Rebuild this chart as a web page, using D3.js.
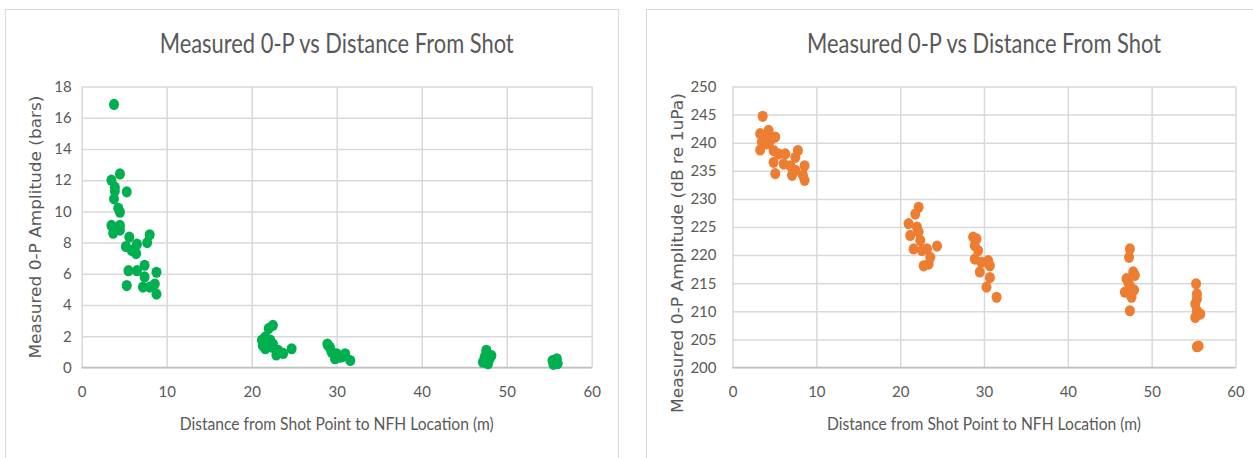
<!DOCTYPE html>
<html>
<head>
<meta charset="utf-8">
<script src="https://cdn.jsdelivr.net/npm/d3@7"></script>
<style>
  body { margin: 0; background: #fff; }
  svg { display: block; }
</style>
</head>
<body>
<div id="chart"></div>
<script>
// data
var title = 'Measured 0-P vs Distance From Shot';
var xTitle = 'Distance from Shot Point to NFH Location (m)';

var barsX = [3.8, 4.5, 3.5, 3.9, 5.3, 3.8, 4.3, 4.5, 3.5, 4.5, 3.7, 4.5, 5.6, 8.0, 7.7, 5.2, 6.5, 5.9, 6.4,
  5.5, 6.5, 7.4, 8.8, 7.4, 5.3, 7.2, 8.0, 8.6, 8.8, 3.9,
  22.5, 22.0, 21.6, 21.2, 21.8, 21.6, 22.5, 23.1, 22.9, 23.7, 24.7, 22.2, 22.4, 21.3,
  28.9, 29.2, 29.4, 30.0, 30.4, 31.0, 31.6, 29.8, 29.0, 30.7,
  47.6, 47.4, 48.0, 48.2, 47.2, 47.8, 47.6,
  55.6, 55.9, 56.0, 55.4, 55.5];
var barsY = [16.85, 12.4, 12.0, 11.55, 11.25, 10.8, 10.2, 9.95, 9.1, 9.1, 8.6, 8.8, 8.35, 8.5, 8.0, 7.75, 7.9, 7.5, 7.3,
  6.2, 6.2, 6.55, 6.1, 5.8, 5.25, 5.15, 5.15, 5.35, 4.7, 11.3,
  2.7, 2.5, 1.95, 1.75, 1.5, 1.2, 1.5, 1.1, 0.8, 0.9, 1.2, 1.75, 1.3, 1.4,
  1.5, 1.3, 0.98, 0.88, 0.66, 0.88, 0.45, 0.56, 1.4, 0.7,
  1.1, 0.66, 0.56, 0.77, 0.34, 0.24, 0.9,
  0.34, 0.56, 0.25, 0.45, 0.2];

var dbX = [3.6, 3.3, 4.3, 5.1, 3.5, 3.3, 4.1, 4.9, 5.5, 6.3, 7.8, 7.5, 4.9, 6.1, 6.9, 8.6, 5.1, 7.1, 8.4, 8.6, 7.5, 3.6, 4.5,
  22.2, 21.8, 21.0, 21.2, 22.0, 22.2, 22.4, 21.6, 22.6, 23.2, 23.6, 22.8, 23.4, 24.4,
  28.7, 29.1, 28.9, 29.3, 28.9, 29.7, 30.5, 30.7, 29.5, 30.7, 30.3, 31.5,
  47.4, 47.3, 47.8, 47.2, 48.0, 47.0, 47.4, 46.8, 47.6, 47.4, 47.9,
  55.3, 55.4, 55.2, 55.4, 55.2, 55.8, 55.4, 55.6, 55.4];
var dbY = [244.7, 241.6, 242.2, 241.0, 240.1, 238.7, 239.8, 238.6, 238.0, 238.0, 238.6, 237.4, 236.5, 236.2, 235.9, 235.9, 234.5, 234.2, 234.2, 233.3, 235.1, 241.1, 240.4,
  228.5, 227.3, 225.6, 223.5, 225.0, 224.1, 222.6, 221.1, 220.8, 221.1, 219.6, 218.1, 218.4, 221.6,
  223.2, 222.9, 221.7, 220.8, 219.3, 218.7, 219.0, 218.1, 217.0, 216.0, 214.3, 212.5,
  221.1, 219.6, 217.0, 215.2, 216.4, 215.8, 214.6, 213.4, 212.5, 210.1, 213.8,
  214.9, 213.1, 211.3, 210.1, 208.9, 209.5, 203.7, 203.8, 212.2];

var xTicks = [0, 10, 20, 30, 40, 50, 60];
var barsTicks = [0, 2, 4, 6, 8, 10, 12, 14, 16, 18];
var dbTicks = [200, 205, 210, 215, 220, 225, 230, 235, 240, 245, 250];

var textColor = '#595959';

var svg = d3.select('#chart').append('svg')
    .attr('width', 1253)
    .attr('height', 458);

function drawChart(cfg) {
    var g = svg.append('g');

    // chart frame
    g.append('rect')
        .attr('x', cfg.frame[0] + 0.5).attr('y', 9.5)
        .attr('width', cfg.frame[1]).attr('height', 470)
        .attr('fill', '#fff').attr('stroke', '#d9d9d9');

    var x = d3.scaleLinear().domain([0, 60]).range([cfg.left, cfg.right]);
    var y = d3.scaleLinear().domain(cfg.yDomain).range([367.5, 86.5]);

    // grid
    g.append('g')
        .attr('class', 'grid')
        .attr('transform', 'translate(0,367.5)')
        .call(d3.axisBottom(x).tickValues(xTicks).tickSize(-(367.5 - 86.5)).tickFormat(''))
        .call(function(s) { s.select('.domain').remove(); });
    g.append('g')
        .attr('class', 'grid')
        .attr('transform', 'translate(' + cfg.left + ',0)')
        .call(d3.axisLeft(y).tickValues(cfg.yTicks).tickSize(-(cfg.right - cfg.left)).tickFormat(''))
        .call(function(s) { s.select('.domain').remove(); });
    g.selectAll('.grid line').attr('stroke', '#d9d9d9').attr('stroke-width', 1.5);

    // baseline
    g.append('line')
        .attr('x1', cfg.left).attr('x2', cfg.right)
        .attr('y1', y(cfg.yDomain[0])).attr('y2', y(cfg.yDomain[0]))
        .attr('stroke', '#bfbfbf').attr('stroke-width', 1.5);

    // tick labels
    var xa = g.append('g')
        .attr('transform', 'translate(0,367.5)')
        .call(d3.axisBottom(x).tickValues(xTicks).tickSize(0).tickPadding(19));
    var ya = g.append('g')
        .attr('transform', 'translate(' + cfg.left + ',0)')
        .call(d3.axisLeft(y).tickValues(cfg.yTicks).tickSize(0).tickPadding(cfg.yPad));
    [xa, ya].forEach(function(a) {
        a.select('.domain').remove();
        a.selectAll('text')
            .attr('fill', textColor)
            .style('font-family', 'Lato, "Open Sans", sans-serif')
            .style('font-size', '15px');
    });

    // points
    g.append('g').selectAll('ellipse')
        .data(cfg.xs.map(function(v, i) { return [v, cfg.ys[i]]; }))
        .enter()
        .append('ellipse')
        .attr('cx', function(d) { return x(d[0]); })
        .attr('cy', function(d) { return y(d[1]); })
        .attr('rx', 5)
        .attr('ry', 5.6)
        .attr('fill', cfg.color);

    // titles
    var cx = (cfg.left + cfg.right) / 2;
    g.append('text')
        .attr('x', cx).attr('y', 53)
        .attr('text-anchor', 'middle')
        .attr('fill', textColor)
        .attr('textLength', 354).attr('lengthAdjust', 'spacingAndGlyphs')
        .style('font-family', 'Lato, sans-serif')
        .style('font-size', '27px')
        .text(title);
    g.append('text')
        .attr('x', cx).attr('y', 430)
        .attr('text-anchor', 'middle')
        .attr('fill', textColor)
        .attr('textLength', 314).attr('lengthAdjust', 'spacingAndGlyphs')
        .style('font-family', 'Lato, sans-serif')
        .style('font-size', '17.5px')
        .text(xTitle);
    g.append('text')
        .attr('transform', 'translate(' + cfg.yTitleX + ',' + cfg.yTitleY + ') rotate(-90)')
        .attr('text-anchor', 'middle')
        .attr('fill', textColor)
        .attr('textLength', cfg.yTitleLen).attr('lengthAdjust', 'spacingAndGlyphs')
        .style('font-family', '"DejaVu Sans", sans-serif')
        .style('font-size', '15px')
        .text(cfg.yTitle);
}

drawChart({
    frame: [5, 613], left: 81.7, right: 591.7,
    yDomain: [0, 18], yTicks: barsTicks, yPad: 10,
    xs: barsX, ys: barsY, color: '#00b050',
    yTitle: 'Measured 0-P Amplitude (bars)', yTitleX: 41, yTitleY: 227, yTitleLen: 263
});
drawChart({
    frame: [646, 640], left: 732.5, right: 1235.5,
    yDomain: [200, 250], yTicks: dbTicks, yPad: 16,
    xs: dbX, ys: dbY, color: '#ed7d31',
    yTitle: 'Measured 0-P Amplitude (dB re 1uPa)', yTitleX: 683, yTitleY: 253, yTitleLen: 320
});
</script>
</body>
</html>
